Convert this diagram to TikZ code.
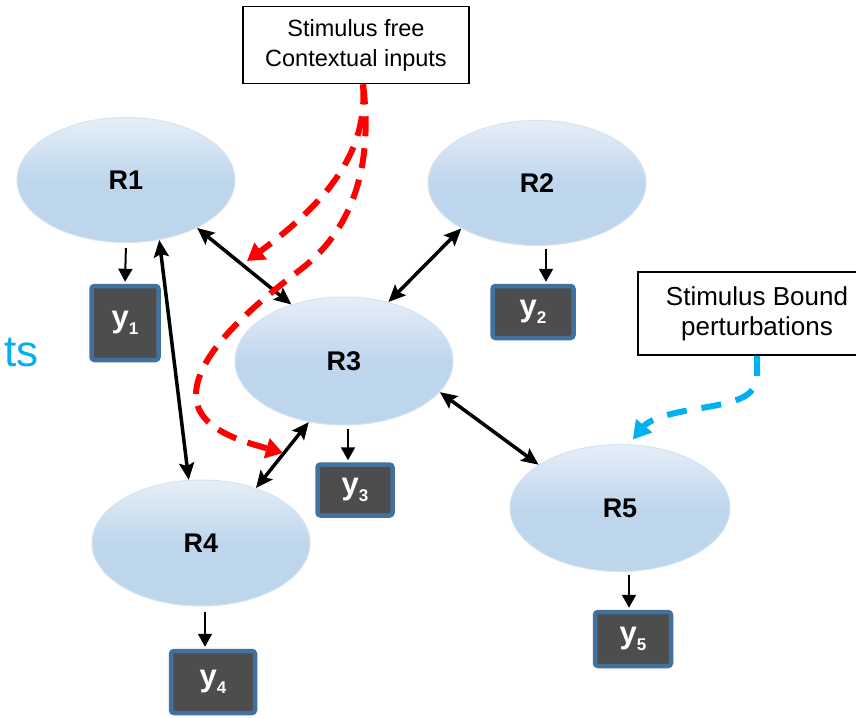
\documentclass[tikz,border=0pt]{standalone}
\usepackage{fontspec}
\setmainfont{Liberation Sans}
\usetikzlibrary{arrows.meta,shapes.geometric,calc}

\definecolor{regionfill}{HTML}{BED6EC}
\definecolor{regiontop}{HTML}{E6EFF8}
\definecolor{regionrim}{HTML}{D6E4F1}
\definecolor{obsgray}{HTML}{4D4D4D}
\definecolor{obsblue}{HTML}{41719C}
\definecolor{ctxred}{HTML}{FF0000}
\definecolor{pertblue}{HTML}{00B0F0}

% lowered small index for the observation labels
\newcommand{\obsidx}[1]{\raisebox{-6.5pt}{\fontsize{17}{17}\selectfont #1}}

\begin{document}
\begin{tikzpicture}[x=1pt,y=-1pt,
  region/.style={ellipse, inner sep=0pt, minimum width=218pt, minimum height=125pt,
    top color=regiontop, bottom color=regionfill, middle color=regionfill,
    draw=regionrim, line width=1pt,
    font=\fontsize{27}{30}\selectfont\bfseries},
  obs/.style={draw=obsblue, line width=4.5pt, fill=obsgray, rounded corners=3pt,
    text=white, inner sep=0pt, font=\fontsize{31}{32}\selectfont\bfseries},
  note/.style={draw=black, line width=1.8pt, fill=white, align=center, inner sep=0pt},
  readout/.style={line width=2pt, -{Triangle[length=13pt,width=14pt]}},
  coupling/.style={line width=3.5pt,
    {Stealth[length=17pt,width=15pt,inset=3pt]}-{Stealth[length=17pt,width=15pt,inset=3pt]}},
  ctxflow/.style={draw=ctxred, line width=6pt, dash pattern=on 20pt off 12pt,
    -{Triangle[length=17pt,width=20pt]}},
  pertflow/.style={draw=pertblue, line width=6pt, dash pattern=on 20pt off 15pt,
    -{Triangle[length=18pt,width=20pt]}}]

\fill[white] (0,0) rectangle (856,717);
\useasboundingbox (0,0) rectangle (856,717);

% cut-off word at the left margin
\node[anchor=base east, inner sep=0pt, text=pertblue,
      font=\fontsize{44}{44}\selectfont] (tsfrag) at (39,366) {ts};

% brain regions
\node[region] (r1) at (126,180) {R1};
\node[region] (r2) at (537,183) {R2};
\node[region, minimum height=128pt] (r3) at (344,361) {R3};
\node[region, minimum height=126pt] (r4) at (201,543) {R4};
\node[region, minimum width=220pt, minimum height=127pt] (r5) at (620,508) {R5};

% observations
\node[obs, minimum width=67pt, minimum height=74pt] (y1) at (125,323) {y\obsidx{1}};
\node[obs, minimum width=81pt, minimum height=52pt] (y2) at (533,312) {y\obsidx{2}};
\node[obs, minimum width=75pt, minimum height=51pt] (y3) at (355,490) {y\obsidx{3}};
\node[obs, minimum width=84pt, minimum height=62pt] (y4) at (213,682) {y\obsidx{4}};
\node[obs, minimum width=76pt, minimum height=54pt] (y5) at (633,639) {y\obsidx{5}};

% input boxes
\node[note, minimum width=226pt, minimum height=77pt,
      font=\fontsize{23.5}{30}\selectfont] (ctx) at (356,45)
      {Stimulus free\\Contextual inputs};
\node[note, minimum width=238pt, minimum height=83pt,
      font=\fontsize{26}{30}\selectfont] (pert) at (757,313.5)
      {Stimulus Bound\\perturbations};

% region -> observation
\draw[readout, shorten <=5pt, shorten >=2pt] (r1.south) -- (y1.north);
\draw[readout, shorten <=3pt, shorten >=2pt] ([xshift=9pt]r2.south) -- ([xshift=13pt]y2.north);
\draw[readout, shorten <=3pt, shorten >=2pt] ([xshift=4pt]r3.south) -- ([xshift=-7pt]y3.north);
\draw[readout, shorten <=5pt, shorten >=2pt] ([xshift=4pt]r4.south) -- ([xshift=-8pt]y4.north);
\draw[readout, shorten <=3pt, shorten >=2pt] ([xshift=9pt]r5.south) -- ([xshift=-4pt]y5.north);

% couplings between regions
\draw[coupling] (r1.-34) -- (r3.133);
\draw[coupling] (r2.211) -- (r3.53);
\draw[coupling] (r3.-18) -- (r5.152);
\draw[coupling] (r3.-120) -- (r4.45);
\draw[coupling] (r1.-61) -- (r4.101);

% contextual inputs
\coordinate (ctxA) at (247,261);
\coordinate (ctxB) at (283,453);
\draw[ctxflow] ([xshift=7pt]ctx.south) .. controls (368,150) and (330,200) .. (ctxA);
\draw[ctxflow] ([xshift=7pt]ctx.south) .. controls (374,170) and (350,232) .. (300,270)
  .. controls (250,308) and (196,355) .. (196,395)
  .. controls (196,430) and (245,442) .. (ctxB);

% perturbation
\draw[pertflow, shorten >=6pt] (pert.south) -- ++(0,18)
  .. controls (758,400) and (730,403) .. (690,410)
  .. controls (662,415) and (648,421) .. (r5.82);
\end{tikzpicture}
\end{document}
